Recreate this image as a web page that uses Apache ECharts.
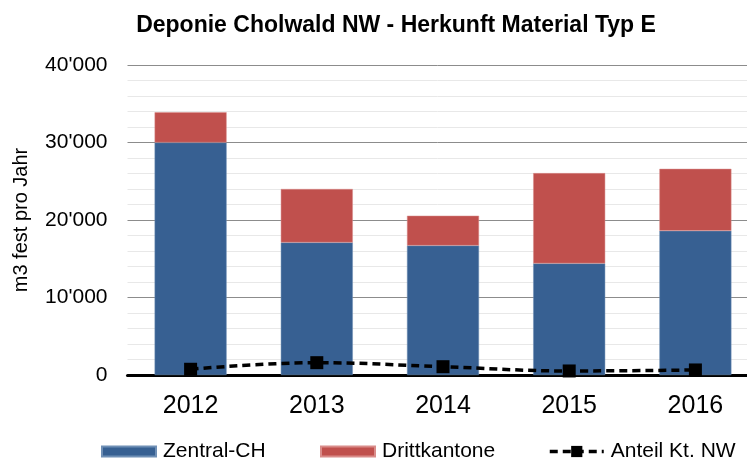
<!DOCTYPE html>
<html>
<head>
<meta charset="utf-8">
<script src="https://cdn.jsdelivr.net/npm/echarts@6/dist/echarts.min.js"></script>
<style>html,body{margin:0;padding:0;background:#fff}#c{width:747px;height:459px}</style>
</head>
<body>
<div id="c"></div>
<script>
const categories = ['2012', '2013', '2014', '2015', '2016'];
const zentralCH = [30000, 17100, 16700, 14400, 18600];
const drittkantone = [3900, 6900, 3850, 11650, 8000];
const anteilNW = [740, 1590, 1070, 520, 650];
const yTicks = [0, 10000, 20000, 30000, 40000];

const fmt = v => v === 0 ? '0' : (Math.floor(v / 1000) + "'" + String(v % 1000).padStart(3, '0'));
const FONT = 'Liberation Sans, Arial, sans-serif';

const legendBase = {
  top: 441, padding: 0, itemWidth: 54, itemHeight: 10,
  textStyle: {fontFamily: FONT, fontSize: 21, color: '#000', padding: [0, 0, 0, 2]}
};

const chart = echarts.init(document.getElementById('c'), null, {renderer: 'canvas'});
chart.setOption({
  animation: false,
  backgroundColor: '#fff',
  title: {
    text: 'Deponie Cholwald NW - Herkunft Material Typ E',
    left: 391, top: 9, textAlign: 'center',
    textStyle: {fontFamily: FONT, fontWeight: 'bold', fontSize: 23, color: '#000'}
  },
  legend: [
    Object.assign({}, legendBase, {left: 101, data: [{name: 'Zentral-CH', icon: 'rect'}]}),
    Object.assign({}, legendBase, {left: 320, data: [{name: 'Drittkantone', icon: 'rect'}]}),
    Object.assign({}, legendBase, {left: 548, top: 441, itemHeight: 14,
      itemStyle: {color: '#000'},
      lineStyle: {width: 3.5, type: [8, 5], color: '#000'},
      data: [{name: 'Anteil Kt. NW'}]})
  ],
  grid: {left: 127.5, top: 65, width: 631, height: 310, containLabel: false, outerBoundsMode: 'none'},
  xAxis: {
    type: 'category', data: categories,
    axisLine: {show: true, lineStyle: {color: '#000', width: 3}},
    axisTick: {show: false},
    axisLabel: {fontFamily: FONT, fontSize: 25, color: '#000', margin: 19}
  },
  yAxis: {
    type: 'value', min: 0, max: 40000, interval: 10000,
    name: 'm3 fest pro Jahr', nameLocation: 'middle', nameRotate: 90, nameGap: 96,
    nameTextStyle: {fontFamily: FONT, fontSize: 20, color: '#000'},
    axisLine: {show: false}, axisTick: {show: false},
    axisLabel: {fontFamily: FONT, fontSize: 21, color: '#000', margin: 20, formatter: fmt},
    splitLine: {show: true, lineStyle: {color: '#8c8c8c', width: 1}},
    minorTick: {show: false, splitNumber: 5},
    minorSplitLine: {show: true, lineStyle: {color: '#e8e8e8', width: 1}}
  },
  series: [
    {name: 'Zentral-CH', type: 'bar', stack: 'a', data: zentralCH, barWidth: 72,
     itemStyle: {color: '#376092', borderColor: '#6f8fb5', borderWidth: 0.5}},
    {name: 'Drittkantone', type: 'bar', stack: 'a', data: drittkantone, barWidth: 72,
     itemStyle: {color: '#C0504D', borderColor: '#d98c8a', borderWidth: 0.5}},
    {name: 'Anteil Kt. NW', type: 'line', data: anteilNW, smooth: 0.4,
     symbol: 'rect', symbolSize: 13, showSymbol: true, z: 5,
     lineStyle: {color: '#000', width: 3.5, type: [8, 5]},
     itemStyle: {color: '#000'}}
  ]
});
</script>
</body>
</html>
